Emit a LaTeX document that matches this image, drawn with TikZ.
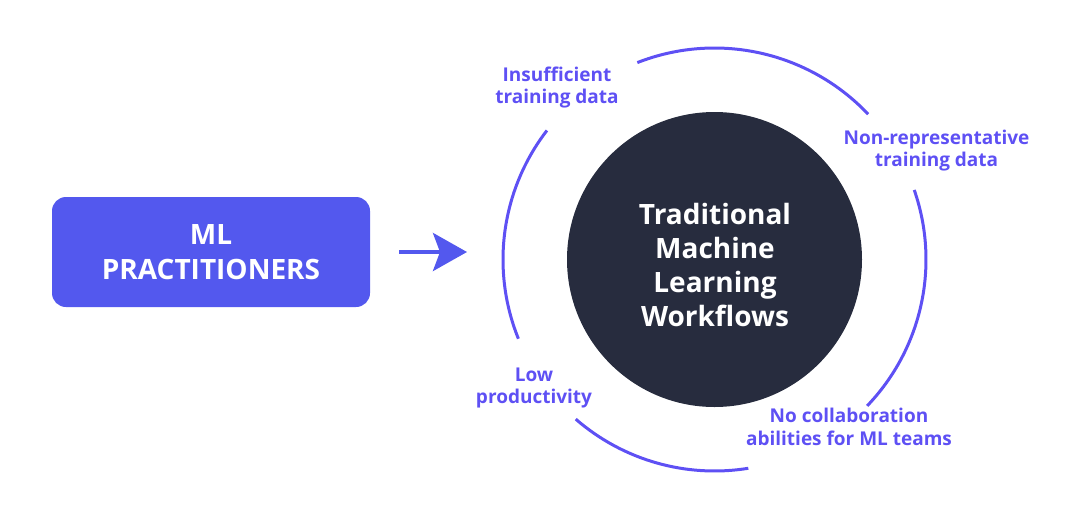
\documentclass[tikz,border=0pt]{standalone}
\usepackage{fontspec}
\setmainfont{Open Sans}
\usetikzlibrary{arrows.meta}
\definecolor{boxblue}{RGB}{83,88,238}
\definecolor{ringpurple}{RGB}{94,80,244}
\definecolor{navy}{RGB}{39,44,62}
\begin{document}
\begin{tikzpicture}[x=1pt,y=1pt,
  box/.style={fill=boxblue, rounded corners=14pt, minimum width=318pt, minimum height=110pt,
    text=white, font=\fontsize{28}{35}\selectfont\bfseries, align=center, inner sep=0pt},
  hub/.style={circle, fill=navy, minimum size=295pt, inner sep=0pt},
  hubtext/.style={text=white, font=\fontsize{28}{33.7}\selectfont\bfseries, align=center, inner sep=0pt},
  lbl/.style={text=ringpurple, font=\fontsize{19}{22.5}\selectfont\bfseries, align=center, inner sep=0pt},
  ring/.style={draw=ringpurple, line width=3pt},
  arr/.style={draw=boxblue, line width=4pt, -{Stealth[length=34pt,width=38pt,inset=7pt]}}
]
\useasboundingbox (0,0) rectangle (1080,-520);
\node[box] (ml) at (211,-252) {ML\\PRACTITIONERS};
\node[hub] (c) at (714.5,-259.5) {};
\node[hubtext] (ct) at (715,-265) {Traditional\\Machine\\Learning\\Workflows};
\coordinate (arrend) at (467,-252);
\draw[arr, shorten <=29pt] (ml.east) -- (arrend);
% ring arcs
\draw[ring] ([shift={(43.4:211.5)}]c.center) arc[start angle=43.4, end angle=111.4, radius=211.5];
\draw[ring] ([shift={(-43.8:211.5)}]c.center) arc[start angle=-43.8, end angle=19.2, radius=211.5];
\draw[ring] ([shift={(229:211.5)}]c.center) arc[start angle=229, end angle=279.2, radius=211.5];
\draw[ring] ([shift={(142.4:211.5)}]c.center) arc[start angle=142.4, end angle=202, radius=211.5];
% labels
\node[lbl] (l1) at (557,-87.3) {Insufficient\\training data};
\node[lbl] (l2) at (936.5,-150.8) {Non-representative\\training data};
\node[lbl] (l3) at (534,-388) {Low\\productivity};
\node[lbl] (l4) at (849,-427) {No collaboration\\abilities for ML teams};
\end{tikzpicture}
\end{document}
